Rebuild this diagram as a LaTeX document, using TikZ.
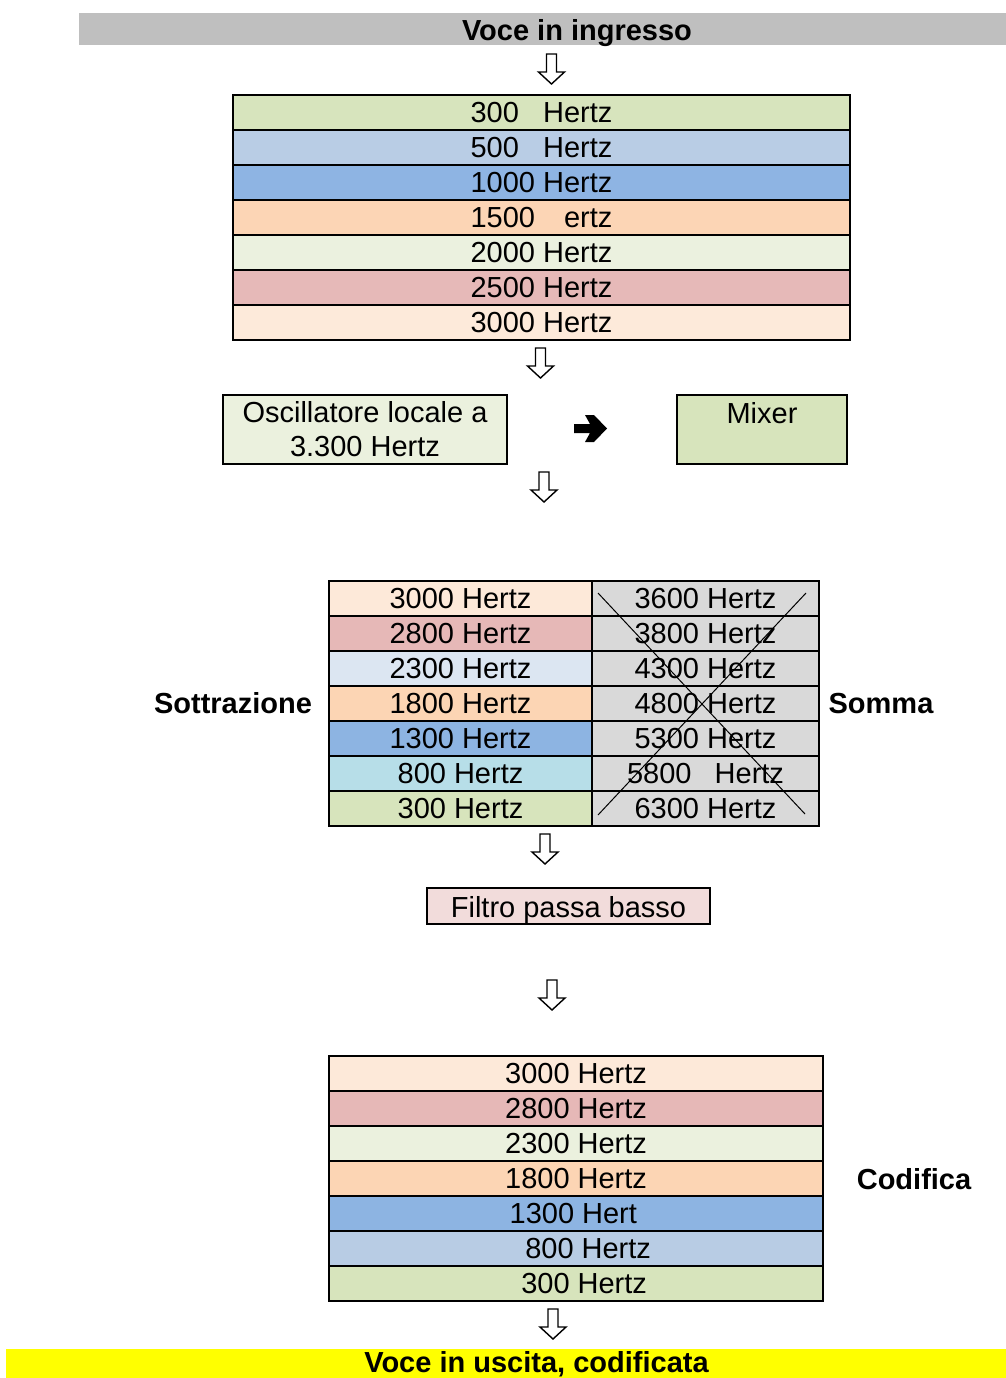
\documentclass[tikz,border=0pt]{standalone}
\usepackage{fontspec}
\setmainfont{Liberation Sans}
\definecolor{barGrey}{HTML}{BFBFBF}
\definecolor{barYellow}{HTML}{FFFF00}
\definecolor{oscFill}{HTML}{EBF1DE}
\definecolor{mixFill}{HTML}{D7E4BC}
\definecolor{filFill}{HTML}{F2DCDB}
\definecolor{sumFill}{HTML}{D9D9D9}
% table 1
\definecolor{a1}{HTML}{D7E4BD}
\definecolor{a2}{HTML}{B9CDE5}
\definecolor{a3}{HTML}{8EB4E3}
\definecolor{a4}{HTML}{FCD5B5}
\definecolor{a5}{HTML}{EBF1DF}
\definecolor{a6}{HTML}{E6B9B8}
\definecolor{a7}{HTML}{FDEADA}
% table 2 left
\definecolor{b1}{HTML}{FDE9D9}
\definecolor{b2}{HTML}{E6B8B7}
\definecolor{b3}{HTML}{DCE6F2}
\definecolor{b4}{HTML}{FCD5B4}
\definecolor{b5}{HTML}{8DB4E2}
\definecolor{b6}{HTML}{B7DEE8}
\definecolor{b7}{HTML}{D7E4BC}
% table 3
\definecolor{c1}{HTML}{FDE9D9}
\definecolor{c2}{HTML}{E6B8B7}
\definecolor{c3}{HTML}{EBF1DE}
\definecolor{c4}{HTML}{FCD5B4}
\definecolor{c5}{HTML}{8DB4E2}
\definecolor{c6}{HTML}{B8CCE4}
\definecolor{c7}{HTML}{D7E4BC}
\begin{document}
\begin{tikzpicture}[x=1pt,y=-1pt,
  font=\fontsize{29}{34}\selectfont,
  cell/.style={inner sep=0pt, outer sep=0pt, anchor=north west},
  border/.style={draw=black, line width=2pt},
  boxnode/.style={draw=black, line width=2pt, inner sep=0pt, outer sep=0pt},
  txt/.style={inner sep=0pt, outer sep=0pt, text height=20.8pt, text depth=0pt},
  bold/.style={txt, font=\fontsize{29}{34}\selectfont\bfseries},
  downarrow/.pic={\draw[line width=1.4pt, fill=white, line join=miter]
     (-5,0) -- (5,0) -- (5,18) -- (13,18) -- (0,30) -- (-13,18) -- (-5,18) -- cycle;}
]
\clip (0,0) rectangle (1006,1378);
\fill[white] (0,0) rectangle (1006,1378);

% top bar
\node[fill=barGrey, inner sep=0pt, minimum width=927pt, minimum height=32pt, anchor=north west] (inbar) at (79,13) {};
\node[bold] (intext) at (577,30) {Voce in ingresso};
\pic at (551.5,54) {downarrow};

% table 1
\foreach \i in {1,...,7}{
  \node[cell, fill=a\i, minimum width=617pt, minimum height=35pt] (a\i) at (233,{95+(\i-1)*35}) {};
}
\foreach \i in {1,...,7}{
  \draw[border] (a\i.north west) rectangle (a\i.south east);
}
\foreach \t [count=\i] in {{\makebox[142pt]{300\hfill Hertz}},{\makebox[142pt]{500\hfill Hertz}},{1000 Hertz},{\makebox[142pt]{1500\hfill ertz}},{2000 Hertz},{2500 Hertz},{3000 Hertz}}{
  \node[txt] (at\i) at (a\i) {\t};
}
\pic at (540.5,348) {downarrow};

% oscillator and mixer
\node[boxnode, fill=oscFill, minimum width=284pt, minimum height=69pt, align=center] (osc) at (365,429.5) {Oscillatore locale a\\3.300 Hertz};
\node[boxnode, fill=mixFill, minimum width=170pt, minimum height=69pt] (mix) at (762,429.5) {};
\node[txt] (mixtext) at (762,413) {Mixer};
\fill[black] (574,424) -- (590,424) -- (585,415) -- (594,415) -- (607,428.5) -- (594,442) -- (585,442) -- (590,433) -- (574,433) -- cycle;
\pic at (544,472) {downarrow};

% table 2
\foreach \i in {1,...,7}{
  \node[cell, fill=b\i, minimum width=263pt, minimum height=35pt] (b\i) at (329,{581+(\i-1)*35}) {};
  \node[cell, fill=sumFill, minimum width=227pt, minimum height=35pt] (s\i) at (592,{581+(\i-1)*35}) {};
}
\foreach \i in {1,...,7}{
  \draw[border] (b\i.north west) rectangle (b\i.south east);
  \draw[border] (s\i.north west) rectangle (s\i.south east);
}
\foreach \t [count=\i] in {3000,2800,2300,1800,1300,800,300}{
  \node[txt] (bt\i) at (b\i) {\t\ Hertz};
}
\foreach \t [count=\i] in {{3600 Hertz},{3800 Hertz},{4300 Hertz},{4800 Hertz},{5300 Hertz},{\makebox[157pt]{5800\hfill Hertz}},{6300 Hertz}}{
  \node[txt] (st\i) at (s\i) {\t};
}
\coordinate (x1) at (598,593);
\coordinate (x2) at (805,814);
\coordinate (x3) at (806,593);
\coordinate (x4) at (598,815);
\draw[line width=1pt] (x1) -- (x2);
\draw[line width=1pt] (x3) -- (x4);
\node[bold] (sott) at (233,703) {Sottrazione};
\node[bold] (somma) at (881,703) {Somma};
\pic at (545,834) {downarrow};

% filter
\node[boxnode, fill=filFill, minimum width=283pt, minimum height=36pt] (fil) at (568.5,906) {};
\node[txt] (filtext) at (568.5,907) {Filtro passa basso};
\pic at (552,980) {downarrow};

% table 3
\foreach \i in {1,...,7}{
  \node[cell, fill=c\i, minimum width=494pt, minimum height=35pt] (c\i) at (329,{1056+(\i-1)*35}) {};
}
\foreach \i in {1,...,7}{
  \draw[border] (c\i.north west) rectangle (c\i.south east);
}
\foreach \t/\xx [count=\i] in {{3000 Hertz}/647,{2800 Hertz}/647,{2300 Hertz}/647,{1800 Hertz}/647,{1300 Hert}/637,{800 Hertz}/651,{300 Hertz}/647}{
  \node[txt, anchor=east] (ct\i) at (\xx,{1056+(\i-0.5)*35}) {\t};
}
\node[bold] (codifica) at (914,1179) {Codifica};
\pic at (553,1309) {downarrow};

% bottom bar
\node[fill=barYellow, inner sep=0pt, minimum width=1000pt, minimum height=40pt, anchor=north west] (outbar) at (6,1349) {};
\node[inner sep=0pt, anchor=base, font=\fontsize{29}{34}\selectfont\bfseries] (outtext) at (536.5,1372.5) {Voce in uscita, codificata};
\end{tikzpicture}
\end{document}
